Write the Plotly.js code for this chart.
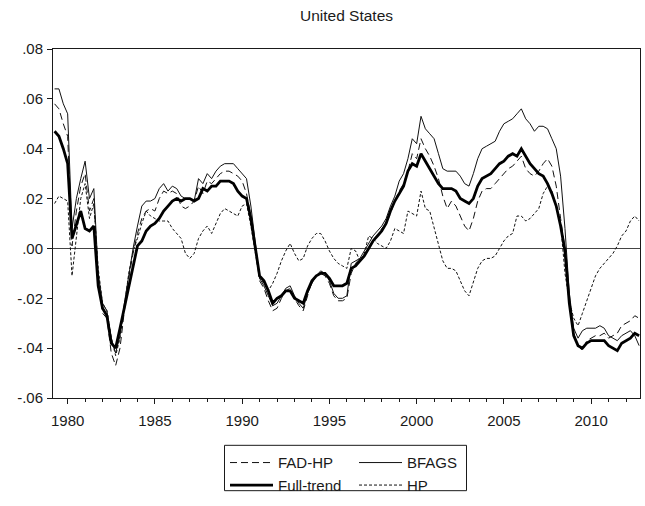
<!DOCTYPE html>
<html>
<head>
<meta charset="utf-8">
<script src="https://cdn.plot.ly/plotly-3.0.1.min.js"></script>
<style>
  html, body { margin: 0; padding: 0; background: #fff; }
  #chart { width: 645px; height: 506px; }
</style>
</head>
<body>
<div id="chart"></div>
<script>
// Quarterly observations, 1979Q2 .. 2012Q4 (decimal years)
const firstObs = 1979.25;
const obsPerYear = 4;

const fadHP = [
  0.058, 0.056, 0.050, 0.045, 0.001, 0.015, 0.025, 0.030, 0.015, 0.020, -0.012, -0.026, -0.028, -0.042, -0.047, -0.040, -0.025, -0.012, -0.002, 0.006,
  0.012, 0.015, 0.016, 0.015, 0.020, 0.023, 0.022, 0.023, 0.022, 0.017, 0.016, 0.017, 0.019, 0.025, 0.022, 0.027, 0.026, 0.028, 0.030, 0.031, 0.031, 0.030, 0.029, 0.027, 0.022, 0.013, 0.000,
  -0.013, -0.016, -0.021, -0.025, -0.024,
  -0.020, -0.017, -0.016, -0.020, -0.023, -0.025, -0.019, -0.013, -0.011, -0.010, -0.011, -0.014, -0.019, -0.021, -0.021, -0.020, -0.010, -0.006, -0.004, -0.003, 0.000, 0.003, 0.005, 0.008, 0.010, 0.014, 0.019, 0.023,
  0.026, 0.031, 0.038, 0.036, 0.044, 0.040, 0.037, 0.033, 0.028, 0.021, 0.016, 0.019, 0.017, 0.013, 0.009, 0.007, 0.012, 0.019, 0.023, 0.024, 0.024, 0.026, 0.028, 0.030, 0.032, 0.033, 0.035, 0.037, 0.032, 0.030, 0.029, 0.031, 0.034, 0.036, 0.033, 0.025, 0.012, 0.000, -0.020, -0.034, -0.039, -0.041, -0.037, -0.036, -0.035, -0.035, -0.034, -0.036, -0.035, -0.034, -0.031, -0.030, -0.029, -0.027, -0.028
];

const bfags = [
  0.064, 0.064, 0.058, 0.054, 0.008, 0.020, 0.028, 0.035, 0.020, 0.024, -0.010, -0.022, -0.025, -0.036, -0.042, -0.035, -0.022, -0.011, 0.000, 0.009,
  0.017, 0.019, 0.019, 0.020, 0.024, 0.026, 0.023, 0.025, 0.024, 0.021, 0.020, 0.020, 0.019, 0.028, 0.026, 0.030, 0.028, 0.031, 0.033, 0.034, 0.034, 0.034, 0.032, 0.030, 0.028, 0.017, 0.002,
  -0.012, -0.015, -0.019, -0.023, -0.022,
  -0.019, -0.016, -0.015, -0.019, -0.022, -0.024, -0.018, -0.014, -0.011, -0.009, -0.010, -0.013, -0.018, -0.020, -0.020, -0.019, -0.006, -0.005, -0.004, -0.001, 0.002, 0.005, 0.007, 0.009, 0.012, 0.017, 0.021, 0.027,
  0.030, 0.036, 0.044, 0.042, 0.053, 0.048, 0.046, 0.044, 0.038, 0.032, 0.031, 0.031, 0.031, 0.029, 0.026, 0.025, 0.030, 0.036, 0.040, 0.041, 0.042, 0.043, 0.047, 0.050, 0.051, 0.052, 0.054, 0.056, 0.052, 0.050, 0.047, 0.049, 0.049, 0.048, 0.044, 0.040, 0.029, 0.008, -0.018, -0.032, -0.036, -0.033, -0.032, -0.032, -0.032, -0.031, -0.032, -0.035, -0.036, -0.037, -0.035, -0.034, -0.033, -0.035, -0.039
];

const fullTrend = [
  0.047, 0.045, 0.040, 0.034, 0.004, 0.010, 0.015, 0.008, 0.007, 0.009, -0.015, -0.024, -0.027, -0.038, -0.040, -0.032, -0.024, -0.016, -0.008, 0.001,
  0.003, 0.007, 0.009, 0.010, 0.012, 0.015, 0.017, 0.019, 0.020, 0.019, 0.020, 0.020, 0.019, 0.020, 0.024, 0.023, 0.025, 0.025, 0.027, 0.027, 0.027, 0.026, 0.023, 0.021, 0.020, 0.012, 0.000,
  -0.011, -0.013, -0.017, -0.022, -0.020,
  -0.019, -0.017, -0.017, -0.020, -0.021, -0.022, -0.017, -0.013, -0.011, -0.010, -0.010, -0.012, -0.015, -0.015, -0.015, -0.014, -0.008, -0.007, -0.005, -0.003, 0.000, 0.003, 0.005, 0.007, 0.010, 0.015, 0.019, 0.022,
  0.025, 0.031, 0.034, 0.033, 0.038, 0.035, 0.032, 0.029, 0.026, 0.024, 0.024, 0.024, 0.023, 0.020, 0.019, 0.018, 0.020, 0.025, 0.028, 0.029, 0.030, 0.032, 0.034, 0.035, 0.037, 0.038, 0.037, 0.040, 0.037, 0.034, 0.032, 0.030, 0.029, 0.026, 0.022, 0.017, 0.009, -0.001, -0.022, -0.035, -0.039, -0.040, -0.038, -0.037, -0.037, -0.037, -0.037, -0.039, -0.040, -0.041, -0.038, -0.037, -0.036, -0.034, -0.035
];

const hp = [
  0.018, 0.021, 0.020, 0.019, -0.011, 0.005, 0.020, 0.026, 0.012, 0.018, -0.008, -0.022, -0.025, -0.036, -0.043, -0.036, -0.024, -0.010, -0.001, 0.004,
  0.010, 0.015, 0.013, 0.012, 0.011, 0.011, 0.011, 0.008, 0.006, 0.004, -0.002, -0.004, -0.002, 0.004, 0.007, 0.009, 0.006, 0.010, 0.014, 0.016, 0.015, 0.014, 0.013, 0.017, 0.018, 0.009, -0.002,
  -0.012, -0.014, -0.017, -0.014, -0.010,
  -0.005, -0.001, 0.002, -0.002, -0.005, -0.004, 0.001, 0.004, 0.006, 0.006, 0.003, -0.001, -0.004, -0.006, -0.007, -0.008, 0.000, -0.001, -0.005, -0.002, 0.005, 0.004, 0.002, 0.001, 0.000, 0.003, 0.008, 0.007,
  0.006, 0.015, 0.014, 0.013, 0.023, 0.016, 0.015, 0.008, 0.002, -0.005, -0.008, -0.008, -0.009, -0.013, -0.017, -0.019, -0.013, -0.008, -0.005, -0.004, -0.004, -0.003, 0.000, 0.003, 0.005, 0.006, 0.013, 0.013, 0.011, 0.012, 0.014, 0.016, 0.022, 0.025, 0.023, 0.017, 0.010, -0.010, -0.021, -0.028, -0.031, -0.026, -0.021, -0.016, -0.011, -0.008, -0.006, -0.004, -0.002, 0.001, 0.005, 0.007, 0.011, 0.013, 0.011
];

const seriesNames = ["FAD-HP", "BFAGS", "Full-trend", "HP"];
const yTickVals = [-0.06, -0.04, -0.02, 0.00, 0.02, 0.04, 0.06, 0.08];
const yTickText = ["-.06", "-.04", "-.02", ".00", ".02", ".04", ".06", ".08"];
const xTickVals = [1980, 1985, 1990, 1995, 2000, 2005, 2010];
const xTickText = ["1980", "1985", "1990", "1995", "2000", "2005", "2010"];

const xs = fullTrend.map((_, i) => firstObs + i / obsPerYear);

const FONT = "Liberation Sans, Arial, sans-serif";
const INK = "#1a1a1a";

const traces = [
  { x: xs, y: fadHP, name: seriesNames[0], type: "scatter", mode: "lines",
    line: { color: "#111", width: 1, dash: "7px,4px" }, legend: "legend" },
  { x: xs, y: bfags, name: seriesNames[1], type: "scatter", mode: "lines",
    line: { color: "#111", width: 1 }, legend: "legend2" },
  { x: xs, y: hp, name: seriesNames[3], type: "scatter", mode: "lines",
    line: { color: "#111", width: 1, dash: "3px,2px" }, legend: "legend2" },
  { x: xs, y: fullTrend, name: seriesNames[2], type: "scatter", mode: "lines",
    line: { color: "#000", width: 2.8 }, legend: "legend" }
];

const W = 645, H = 506;
const mL = 53, mR = 5, mT = 49, mB = 103;
const plotW = W - mL - mR, plotH = H - mT - mB;
const px2paperX = p => (p - mL) / plotW;
const px2paperY = p => (H - mB - p) / plotH;

const legendFont = { family: FONT, size: 15, color: INK };

const layout = {
  width: W, height: H,
  margin: { l: mL, r: mR, t: mT, b: mB, pad: 0 },
  paper_bgcolor: "#fff", plot_bgcolor: "#fff",
  font: { family: FONT, size: 15, color: INK },
  showlegend: true,
  title: {
    text: "United States",
    font: { family: FONT, size: 15.5, color: INK },
    xref: "paper", x: 0.5, xanchor: "center",
    yref: "container", y: 1 - 16 / H, yanchor: "middle"
  },
  xaxis: {
    range: [1979.16, 2012.8],
    tickmode: "array", tickvals: xTickVals, ticktext: xTickText,
    ticks: "outside", ticklen: 5, tickwidth: 1, tickcolor: INK,
    ticklabelstandoff: 4,
    minor: { dtick: 1, tick0: 1980, ticks: "outside", ticklen: 3, tickwidth: 1, tickcolor: INK, showgrid: false },
    showgrid: false, zeroline: false,
    showline: true, linecolor: INK, linewidth: 1, mirror: true,
    tickfont: { family: FONT, size: 15, color: INK },
    fixedrange: true
  },
  yaxis: {
    range: [-0.06, 0.08],
    tickmode: "array", tickvals: yTickVals, ticktext: yTickText,
    ticks: "outside", ticklen: 5, tickwidth: 1, tickcolor: INK,
    ticklabelstandoff: 1,
    showgrid: false,
    zeroline: true, zerolinecolor: "#444", zerolinewidth: 1,
    showline: true, linecolor: INK, linewidth: 1, mirror: true,
    tickfont: { family: FONT, size: 15, color: INK },
    fixedrange: true
  },
  legend: {
    x: px2paperX(225), xanchor: "left",
    y: px2paperY(452), yanchor: "top",
    orientation: "v", bgcolor: "rgba(0,0,0,0)", borderwidth: 0,
    font: legendFont, tracegroupgap: 0, traceorder: "normal", itemwidth: 43
  },
  legend2: {
    x: px2paperX(354), xanchor: "left",
    y: px2paperY(452), yanchor: "top",
    orientation: "v", bgcolor: "rgba(0,0,0,0)", borderwidth: 0,
    font: legendFont, tracegroupgap: 0, traceorder: "normal", itemwidth: 43
  },
  shapes: [
    { type: "rect", xref: "paper", yref: "paper",
      x0: px2paperX(224.5), x1: px2paperX(466.5),
      y0: px2paperY(451), y1: px2paperY(497),
      line: { color: INK, width: 1 }, fillcolor: "rgba(0,0,0,0)" }
  ]
};

Plotly.newPlot("chart", traces, layout, { staticPlot: true, displayModeBar: false });
</script>
</body>
</html>
